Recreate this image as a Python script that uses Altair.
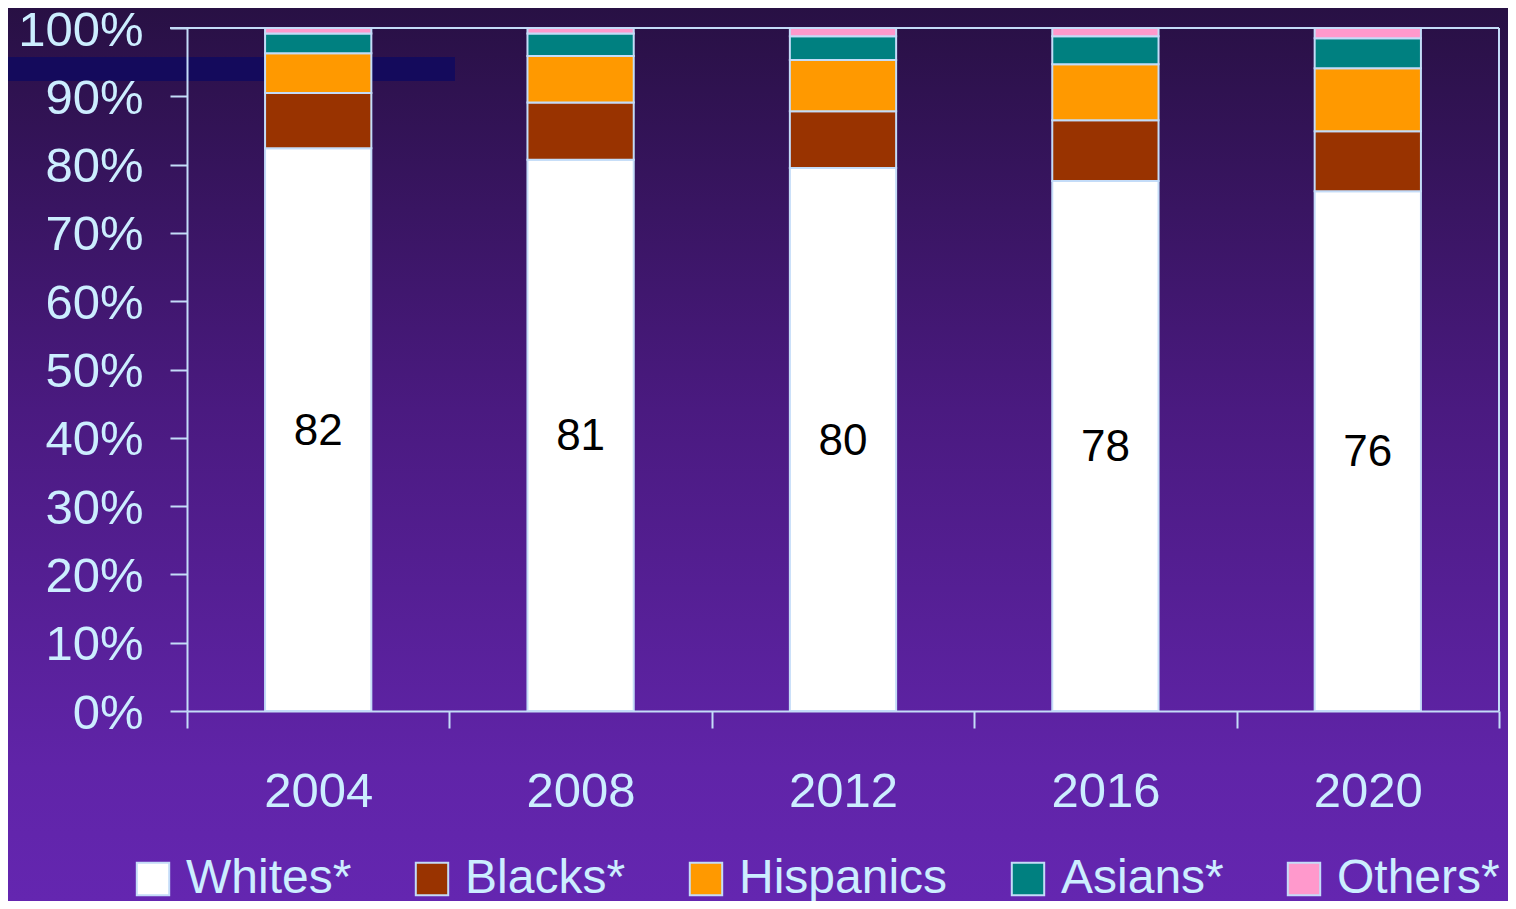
import altair as alt
import pandas as pd

years = ["2004", "2008", "2012", "2016", "2020"]
groups = ["Whites*", "Blacks*", "Hispanics", "Asians*", "Others*"]
whites = [82.4, 80.7, 79.5, 77.6, 76.1]
blacks = [8.1, 8.4, 8.3, 8.9, 8.8]
hispanics = [5.8, 6.8, 7.5, 8.2, 9.2]
asians = [2.9, 3.3, 3.5, 4.1, 4.4]
others = [0.8, 0.8, 1.2, 1.2, 1.5]
white_labels = ["82", "81", "80", "78", "76"]
colors = ["#ffffff", "#993300", "#ff9900", "#008080", "#ff99cc"]
y_ticks = [0, 10, 20, 30, 40, 50, 60, 70, 80, 90, 100]

series = [whites, blacks, hispanics, asians, others]
rows = []
for gi, (g, vals) in enumerate(zip(groups, series)):
    for y, v in zip(years, vals):
        rows.append({"year": y, "group": g, "value": v, "idx": gi})
df = pd.DataFrame(rows)
lab = pd.DataFrame({"year": years, "white": whites, "label": white_labels})

W, H = 1312, 683
PL, PT, PR, PB = 179, 20, 9, 190
FONT = "Liberation Sans"
TXT = "#cceeff"
LINE = "#c4dcf8"

one = pd.DataFrame({"a": [0]})

bg = alt.Chart(one).mark_rect(
    color=alt.Gradient(
        gradient="linear",
        stops=[alt.GradientStop(color="#281044", offset=0),
               alt.GradientStop(color="#4a1a80", offset=0.45),
               alt.GradientStop(color="#6024a8", offset=0.85),
               alt.GradientStop(color="#6426b0", offset=1)],
        x1=0, x2=0, y1=0, y2=1),
).encode(x=alt.value(-PL), x2=alt.value(W + PR), y=alt.value(-PT), y2=alt.value(H + PB))

band = alt.Chart(one).mark_rect(color="#140a5c").encode(
    x=alt.value(-PL - 8), x2=alt.value(268), y=alt.value(29), y2=alt.value(53))

bars = alt.Chart(df).mark_bar(
    stroke=LINE, strokeWidth=2, width=alt.RelativeBandSize(0.405)
).encode(
    x=alt.X("year:N", sort=years,
            scale=alt.Scale(paddingInner=0, paddingOuter=0),
            axis=alt.Axis(title=None, labelAngle=0, tickBand="extent", tickSize=17,
                          tickColor=LINE, tickWidth=2, domainColor=LINE, domainWidth=2,
                          labelFont=FONT, labelFontSize=49, labelColor=TXT,
                          labelBaseline="middle", labelPadding=63, zindex=1)),
    y=alt.Y("value:Q", stack="zero", scale=alt.Scale(domain=[0, 100], nice=False),
            axis=alt.Axis(title=None, values=y_ticks, labelExpr="datum.value + '%'",
                          tickSize=17, tickColor=LINE, tickWidth=2, domainColor=LINE,
                          domainWidth=2, grid=False, labelFont=FONT, labelFontSize=49,
                          labelColor=TXT, labelPadding=27, labelOffset=2, zindex=1)),
    color=alt.Color("group:N", scale=alt.Scale(domain=groups, range=colors),
                    legend=alt.Legend(title=None, orient="none", direction="horizontal",
                                      legendX=-58, legendY=827, symbolType="square",
                                      symbolSize=1050, symbolStrokeColor=LINE,
                                      symbolStrokeWidth=2, labelFont=FONT,
                                      labelFontSize=48, labelColor=TXT, labelOffset=9,
                                      labelLimit=400, columnPadding=56, zindex=1)),
    order=alt.Order("idx:Q"),
)

text = alt.Chart(lab).transform_calculate(mid="datum.white / 2").mark_text(
    font=FONT, fontSize=44, color="black", dy=2
).encode(x=alt.X("year:N", sort=years), y=alt.Y("mid:Q"), text="label:N")

top_rule = alt.Chart(one).mark_rule(color=LINE, strokeWidth=2).encode(
    x=alt.value(-17), x2=alt.value(W), y=alt.value(0))
right_rule = alt.Chart(one).mark_rule(color=LINE, strokeWidth=2).encode(
    x=alt.value(W), y=alt.value(0), y2=alt.value(H))

chart = alt.layer(bg, band, bars, text, top_rule, right_rule).properties(
    width=W, height=H,
    padding={"left": PL, "top": PT, "right": PR, "bottom": PB},
    autosize=alt.AutoSizeParams(type="none"),
    background="#3c1670",
).configure_view(stroke=None)

chart.save("out.html", embed_options={"renderer": "svg", "actions": False})
